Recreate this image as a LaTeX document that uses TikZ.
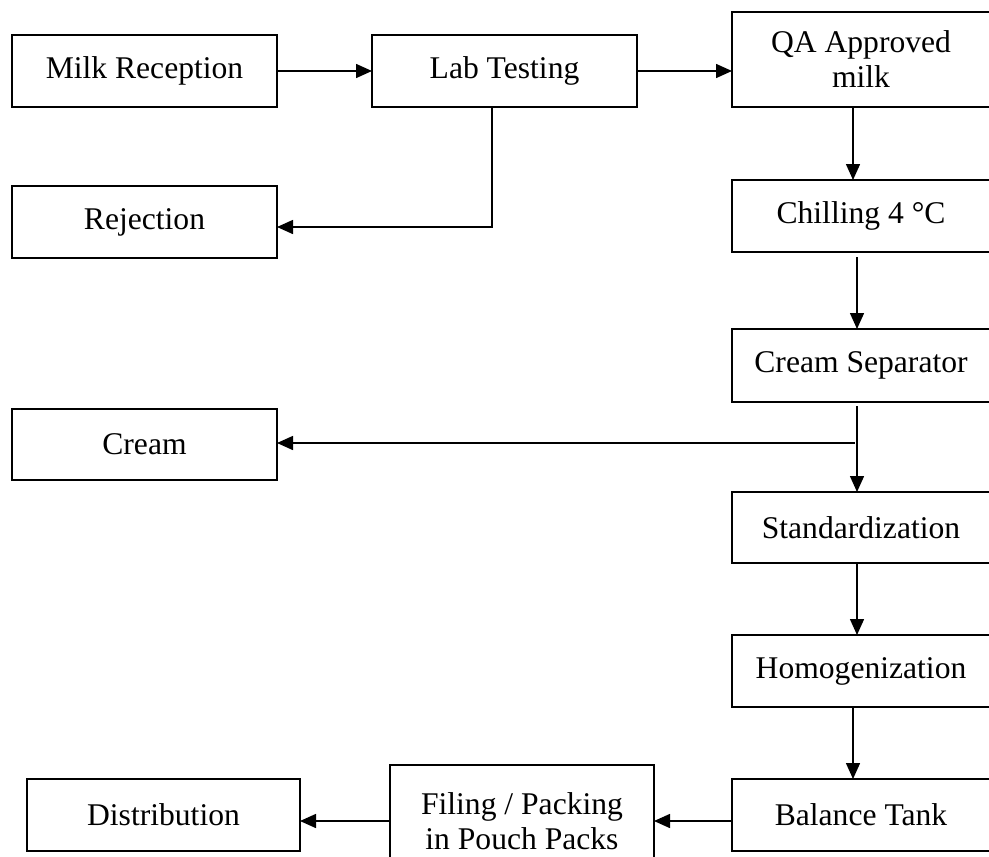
\documentclass[tikz,border=0pt]{standalone}
\usepackage{fontspec}
\setmainfont{Liberation Serif}
\usetikzlibrary{arrows.meta}
\begin{document}
\begin{tikzpicture}[x=0.5pt,y=-0.5pt,
  box/.style={draw,line width=0.65pt,inner sep=0pt,outer sep=0pt,align=center,
    font=\fontsize{15.8}{17.5}\selectfont},
  arr/.style={line width=0.75pt,-{Triangle[length=8pt,width=7pt]}}]
\useasboundingbox (0,0) rectangle (989,856);
\clip (0,0) rectangle (989,856);
% left column
\node[box,minimum width=132.5pt,minimum height=36pt] (mr) at (144.5,71) {Milk Reception};
\node[box,minimum width=132.5pt,minimum height=36pt] (rej) at (144.5,222) {Rejection};
\node[box,minimum width=132.5pt,minimum height=35.5pt] (cream) at (144.5,444.5) {Cream};
% middle
\node[box,minimum width=132.5pt,minimum height=36pt] (lab) at (504.5,71) {Lab Testing};
% right column
\node[box,minimum width=129pt,minimum height=47.5pt] (qa) at (861,59.5) {QA Approved\\milk};
\node[box,minimum width=129pt,minimum height=36pt] (chill) at (861,216) {Chilling 4 °C};
\node[box,minimum width=129pt,minimum height=36.5pt] (sep) at (861,365.5) {Cream Separator};
\node[box,minimum width=129pt,minimum height=35.5pt] (std) at (861,527.5) {Standardization};
\node[box,minimum width=129pt,minimum height=36pt] (hom) at (861,671) {Homogenization};
\node[box,minimum width=129pt,minimum height=36pt] (bal) at (861,815) {Balance Tank};
% bottom row
\node[box,minimum width=132pt,minimum height=56.5pt] (fil) at (522,821.5) {Filing / Packing\\in Pouch Packs};
\node[box,minimum width=136.5pt,minimum height=36pt] (dist) at (163.5,815) {Distribution};
% connectors
\draw[arr] (mr.east) -- (lab.west);
\draw[arr] (lab.east) -- (qa.west |- lab.east);
\coordinate (ld) at (492,227);
\draw[arr] (ld |- lab.south) -- (ld) -- (ld -| rej.east);
\draw[arr] ([xshift=-4pt]qa.south) -- ([xshift=-4pt]chill.north);
\draw[arr,shorten <=2.5pt] ([xshift=-2pt]chill.south) -- ([xshift=-2pt]sep.north);
\draw[arr,shorten <=2pt] ([xshift=-2pt]sep.south) -- ([xshift=-2pt]std.north);
\coordinate (cb) at (855,443);
\draw[arr] (cb) -- (cb -| cream.east);
\draw[arr] ([xshift=-2pt]std.south) -- ([xshift=-2pt]hom.north);
\draw[arr] ([xshift=-4pt]hom.south) -- ([xshift=-4pt]bal.north);
\coordinate (br) at (700,821);
\draw[arr] (br -| bal.west) -- (br -| fil.east);
\draw[arr] (br -| fil.west) -- (br -| dist.east);
\end{tikzpicture}
\end{document}
